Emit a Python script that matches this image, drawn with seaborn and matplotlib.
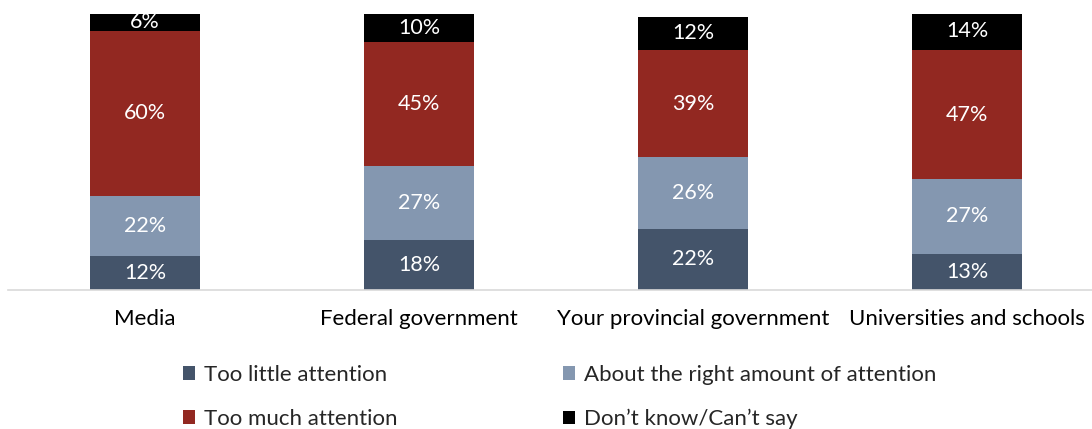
import numpy as np
import pandas as pd
import matplotlib
matplotlib.use("Agg")
import matplotlib.pyplot as plt
import seaborn as sns
from matplotlib.patches import Patch

categories = ["Media", "Federal government", "Your provincial government", "Universities and schools"]
series_names = ["Too little attention", "About the right amount of attention",
                "Too much attention", "Don\u2019t know/Can\u2019t say"]
too_little = [12, 18, 22, 13]
about_right = [22, 27, 26, 27]
too_much = [60, 45, 39, 47]
dont_know = [6, 10, 12, 14]
colors = ["#44546A", "#8497B0", "#922821", "#000000"]

sns.set_theme(style="white")
plt.rcParams["font.family"] = ["Lato", "DejaVu Sans"]

layers = [too_little, about_right, too_much, dont_know]
cum = np.cumsum(np.array(layers, dtype=float), axis=0)

fig = plt.figure(figsize=(10.92, 4.29), dpi=100)
ax = fig.add_axes([8 / 1092, 1 - 289.5 / 429, 1096 / 1092, 275.5 / 429])

# stacked bars: draw cumulative totals from the top layer down
for i in range(len(layers) - 1, -1, -1):
    df = pd.DataFrame({"cat": categories, "val": cum[i]})
    sns.barplot(data=df, x="cat", y="val", color=colors[i], width=0.4,
                saturation=1, ax=ax, linewidth=0)

for i, vals in enumerate(layers):
    for j, v in enumerate(vals):
        ax.text(j, cum[i][j] - v / 2, f"{v}%", ha="center", va="center",
                color="white", fontsize=15.5)

ax.set_xlim(-0.5, 3.5)
ax.set_ylim(0, 100)
ax.set_xlabel("")
ax.set_ylabel("")
ax.set_yticks([])
for s in ["top", "left", "right"]:
    ax.spines[s].set_visible(False)
ax.spines["bottom"].set_color("#D9D9D9")
ax.spines["bottom"].set_linewidth(1.2)
ax.tick_params(axis="x", length=0, pad=14, labelsize=16, labelcolor="black")

handles = [Patch(facecolor=colors[k], edgecolor="none") for k in [0, 2, 1, 3]]
labels = [series_names[k] for k in [0, 2, 1, 3]]
fig.legend(handles, labels, ncol=2, loc="upper left",
           bbox_to_anchor=(165 / 1092, 1 - 347 / 429), frameon=False,
           fontsize=16, handlelength=0.55, handleheight=0.55, handletextpad=0.4,
           columnspacing=7.45, labelspacing=1.08, borderpad=0.3)

fig.savefig("out.png", dpi=100)
